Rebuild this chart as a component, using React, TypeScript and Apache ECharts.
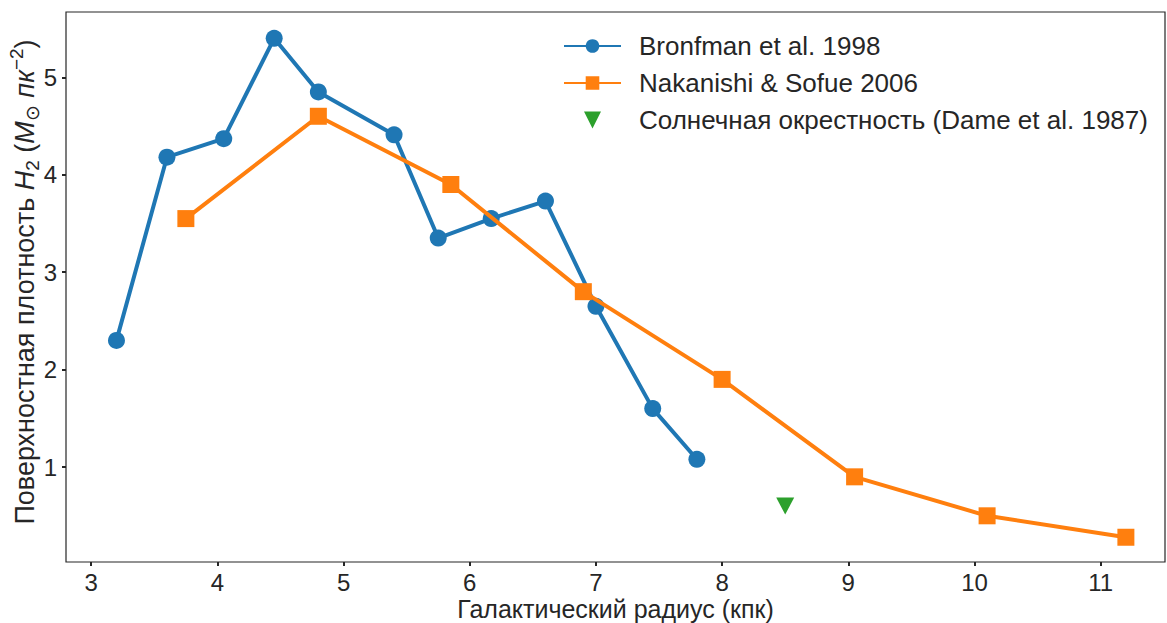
import React, { useEffect, useRef } from "react";
import * as echarts from "echarts";

const bronfmanR = [3.2, 3.6, 4.05, 4.45, 4.8, 5.4, 5.75, 6.17, 6.6, 7.0, 7.45, 7.8];
const bronfmanD = [2.3, 4.18, 4.37, 5.4, 4.85, 4.41, 3.35, 3.55, 3.73, 2.65, 1.6, 1.08];
const nakanishiR = [3.75, 4.8, 5.85, 6.9, 8.0, 9.05, 10.1, 11.2];
const nakanishiD = [3.55, 4.6, 3.9, 2.8, 1.9, 0.9, 0.5, 0.28];
const sunR = [8.5];
const sunD = [0.6];
const xTicks = [3, 4, 5, 6, 7, 8, 9, 10, 11];
const yTicks = [1, 2, 3, 4, 5];
const seriesNames = [
  "Bronfman et al. 1998",
  "Nakanishi & Sofue 2006",
  "Солнечная окрестность (Dame et al. 1987)",
];

const TRI = "path://M0,0 L10,0 L5,10 Z";
const FONT = "Liberation Sans, Arial, sans-serif";
const TXT = "#262626";

export default function App() {
  const ref = useRef<HTMLDivElement>(null);
  useEffect(() => {
    const chart = echarts.init(ref.current!, null, { renderer: "svg" });
    chart.setOption({
      animation: false,
      textStyle: { fontFamily: FONT },
      grid: {
        left: 66,
        right: 2,
        top: 12,
        bottom: 61,
        containLabel: false,
        outerBoundsMode: "none",
        show: true,
        borderColor: "#262626",
        borderWidth: 1.2,
        backgroundColor: "transparent",
      },
      legend: {
        left: 558,
        top: 28,
        orient: "vertical",
        itemWidth: 57,
        itemHeight: 17,
        itemGap: 11,
        textStyle: { fontSize: 26, color: TXT, fontFamily: FONT, padding: [0, 0, 0, 13] },
        data: [
          { name: seriesNames[0] },
          { name: seriesNames[1] },
          { name: seriesNames[2], icon: TRI, itemStyle: { color: "#2ca02c", opacity: 1 } },
        ],
      },
      xAxis: {
        type: "value",
        min: 2.8,
        max: 11.51,
        name: "Галактический радиус (кпк)",
        nameLocation: "middle",
        nameGap: 34,
        nameMoveOverlap: false,
        nameTextStyle: { fontSize: 25, color: TXT, fontFamily: FONT },
        axisLine: { show: false },
        axisTick: { show: true, customValues: xTicks, length: 4, lineStyle: { color: "#262626", width: 2 } },
        axisLabel: { customValues: xTicks, fontSize: 24, color: TXT, margin: 8, fontFamily: FONT },
        splitLine: { show: false },
      },
      yAxis: {
        type: "value",
        min: 0.026,
        max: 5.67,
        name:
          "Поверхностная плотность {it|H}{sub|2} ({it|M}{sub|⊙} {it|пк}{sup|−2})",
        nameLocation: "middle",
        nameRotate: 90,
        nameGap: 24,
        nameMoveOverlap: false,
        nameTextStyle: {
          fontSize: 27,
          color: TXT,
          fontFamily: FONT,
          padding: [0, 0, 0, 10],
          rich: {
            it: { fontSize: 27, fontStyle: "italic", color: TXT, fontFamily: FONT },
            sub: { fontSize: 19, color: TXT, fontFamily: FONT, verticalAlign: "bottom", lineHeight: 35 },
            sup: { fontSize: 19, color: TXT, fontFamily: FONT, verticalAlign: "top", lineHeight: 35 },
          },
        },
        axisLine: { show: false },
        axisTick: { show: true, customValues: yTicks, length: 4, lineStyle: { color: "#262626", width: 2 } },
        axisLabel: { customValues: yTicks, fontSize: 24, color: TXT, margin: 9, fontFamily: FONT },
        splitLine: { show: false },
      },
      series: [
        {
          name: seriesNames[0],
          type: "line",
          data: bronfmanR.map((r, i) => [r, bronfmanD[i]]),
          symbol: "circle",
          symbolSize: 17,
          showAllSymbol: true,
          lineStyle: { width: 4, color: "#1f77b4" },
          itemStyle: { color: "#1f77b4", borderWidth: 0 },
          z: 2,
        },
        {
          name: seriesNames[1],
          type: "line",
          data: nakanishiR.map((r, i) => [r, nakanishiD[i]]),
          symbol: "rect",
          symbolSize: 17,
          showAllSymbol: true,
          lineStyle: { width: 4, color: "#ff7f0e" },
          itemStyle: { color: "#ff7f0e", borderWidth: 0 },
          z: 3,
        },
        {
          name: seriesNames[2],
          type: "scatter",
          data: sunR.map((r, i) => [r, sunD[i]]),
          symbol: TRI,
          symbolSize: [18, 17],
          itemStyle: { color: "#2ca02c", opacity: 1 },
          z: 4,
        },
      ],
    });
    return () => chart.dispose();
  }, []);
  return (
    <div
      ref={ref}
      style={{ position: "fixed", left: 0, top: 0, width: 1167, height: 623, background: "#fff" }}
    />
  );
}
